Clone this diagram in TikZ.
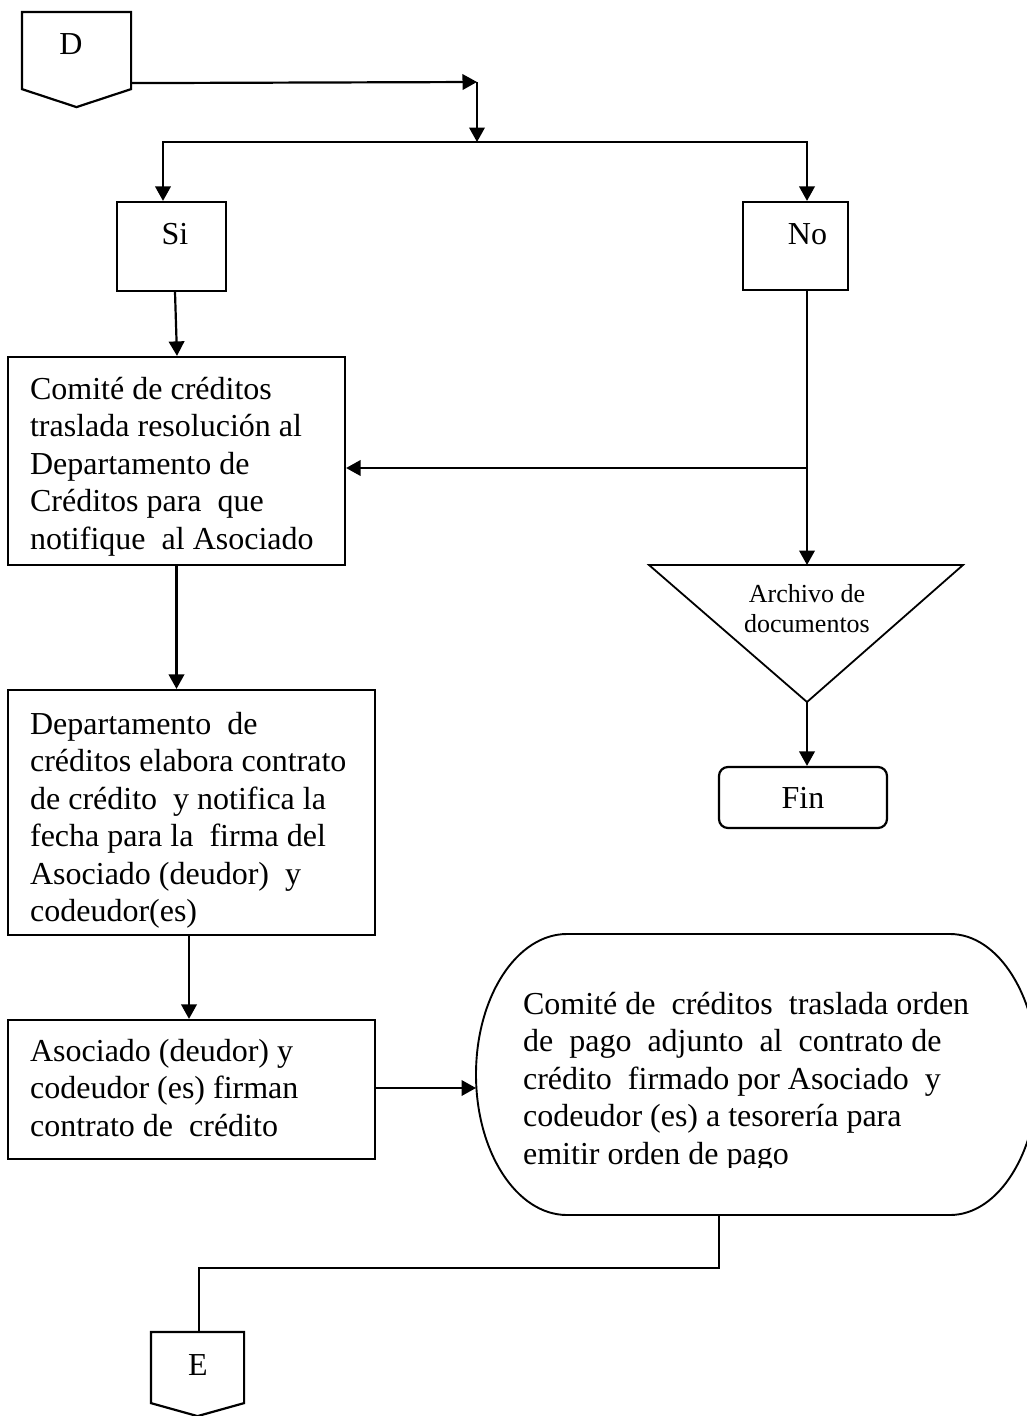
\documentclass[tikz,border=0pt]{standalone}
\usepackage{fontspec}
\setmainfont{Liberation Serif}[Ligatures=NoCommon]
\usetikzlibrary{arrows.meta,calc}
% struts that fix the line pitch of the multi-line texts
\newcommand\linestrut{\rule[-11.5pt]{0pt}{37.5pt}}
\newcommand\tristrut{\rule[-9.3pt]{0pt}{30.3pt}}

\begin{document}
\begin{tikzpicture}[x=1pt,y=-1pt,
  line width=2.2pt,
  box/.style={draw, rectangle, inner sep=0pt, line width=2.2pt},
  txt/.style={inner sep=0pt, font=\fontsize{32}{37.5}\selectfont},
  para/.style={txt, anchor=north west, align=left},
  arr/.style={-{Triangle[length=14.5pt,width=15.5pt]}}
]
\useasboundingbox (0,0) rectangle (1027,1416);
\fill[white] (0,0) rectangle (1027,1416);
\clip (0,0) rectangle (1027,1416);

% off-page connector D
\node[box, draw=none, minimum width=107, minimum height=75] (D) at (76.5,50.5) {};
\draw (D.north west) -- (D.north east) -- (D.south east) -- ($(D.south)+(0,18)$) -- (D.south west) -- cycle;
\node[txt, anchor=base] (Dl) at (71,54) {D};

% decision branches
\node[box, minimum width=109, minimum height=89] (si) at (171.5,246.5) {};
\node[txt, anchor=base] (sil) at (175,244) {Si};
\node[box, minimum width=105, minimum height=88] (no) at (795.5,246) {};
\node[txt, anchor=base] (nol) at (807.5,244) {No};

\coordinate (j0) at (477,82);
\coordinate (j1) at (477,142);
\draw[arr] ($(D.south east)+(0,-6)$) -- (j0);
\draw[arr] (j0) -- (j1);
\draw[arr] (j1) -| ($(si.north)+(-8.5,0)$);
\draw[arr] (j1) -| ($(no.north)+(11.5,0)$);

% process boxes
\node[box, minimum width=337, minimum height=208] (c1) at (176.5,461) {};
\node[para] (c1t) at (29,372) {\linestrut Comité de créditos\\
  \linestrut traslada resolución al\\
  \linestrut Departamento de\\
  \linestrut Créditos para~ que\\
  \linestrut notifique~ al Asociado};

\node[box, minimum width=367, minimum height=245] (c2) at (191.5,812.5) {};
\node[para] (c2t) at (29,707) {\linestrut Departamento~ de\\
  \linestrut créditos elabora contrato\\
  \linestrut de crédito~ y notifica la\\
  \linestrut fecha para la~ firma del\\
  \linestrut Asociado (deudor)~ y\\
  \linestrut codeudor(es)};

\node[box, minimum width=367, minimum height=139] (c3) at (191.5,1089.5) {};
\node[para] (c3t) at (29,1034) {\linestrut Asociado (deudor) y\\
  \linestrut codeudor (es) firman\\
  \linestrut contrato de~ crédito};

\draw[arr] ($(si.south)+(3.5,0)$) -- ($(c1.north)+(0.5,0)$);
\draw[arr] (c1.south) -- (c1.south |- c2.north);
\draw[arr] ($(c2.south)+(-2.5,0)$) -- ($(c3.north)+(-2.5,0)$);

% archive triangle and end
\coordinate (trL) at (649,565);
\coordinate (trR) at (963,565);
\coordinate (trB) at (807,702);
\coordinate (tritop) at (807,565);
\draw[line width=1.8pt] (trL) -- (trR) -- (trB) -- cycle;
\node[inner sep=0pt, anchor=north, align=center, font=\fontsize{26}{30.3}\selectfont] (trt) at (807,580)
  {\tristrut Archivo de\\ \tristrut documentos};

\coordinate (jn) at (807,468);
\draw[arr] ($(no.south)+(11.5,0)$) -- (tritop);
\draw[arr] (jn) -- (jn -| c1.east);

\node[box, txt, rounded corners=9pt, minimum width=168, minimum height=61] (fin) at (803,797.5) {Fin};
\draw[arr] (trB) -- (trB |- fin.north);

% payment order terminal
\coordinate (bigW) at (476,1088);
\coordinate (bigS) at (719,1215);
\draw[line width=1.9pt] (567,934) -- (950,934)
  .. controls (998.6,934) and (1038,996.9) .. (1038,1074.5)
  .. controls (1038,1152.1) and (998.6,1215) .. (950,1215)
  -- (567,1215)
  .. controls (516.7,1215) and (476,1152.1) .. (476,1074.5)
  .. controls (476,996.9) and (516.7,934) .. (567,934) -- cycle;
\begin{scope}
  \clip (470,930) rectangle (1040,1167);
  \node[para] (bigt) at (522,987) {\linestrut Comité de~ créditos~ traslada orden\\
    \linestrut de~ pago~ adjunto~ al~ contrato de\\
    \linestrut crédito~ firmado por Asociado~ y\\
    \linestrut codeudor (es) a tesorería para\\
    \linestrut emitir orden de pago};
\end{scope}
\draw[arr] (c3.east |- bigW) -- (bigW);

% off-page connector E
\node[box, draw=none, minimum width=91, minimum height=69] (E) at (197.5,1367.5) {};
\draw (E.north west) -- (E.north east) -- (E.south east) -- ($(E.south)+(0,13)$) -- (E.south west) -- cycle;
\node[txt, anchor=base] (El) at (198,1375) {E};
\coordinate (jb) at (719,1268);
\draw (bigS) -- (jb) -| ($(E.north)+(1.5,0)$);
\end{tikzpicture}
\end{document}
